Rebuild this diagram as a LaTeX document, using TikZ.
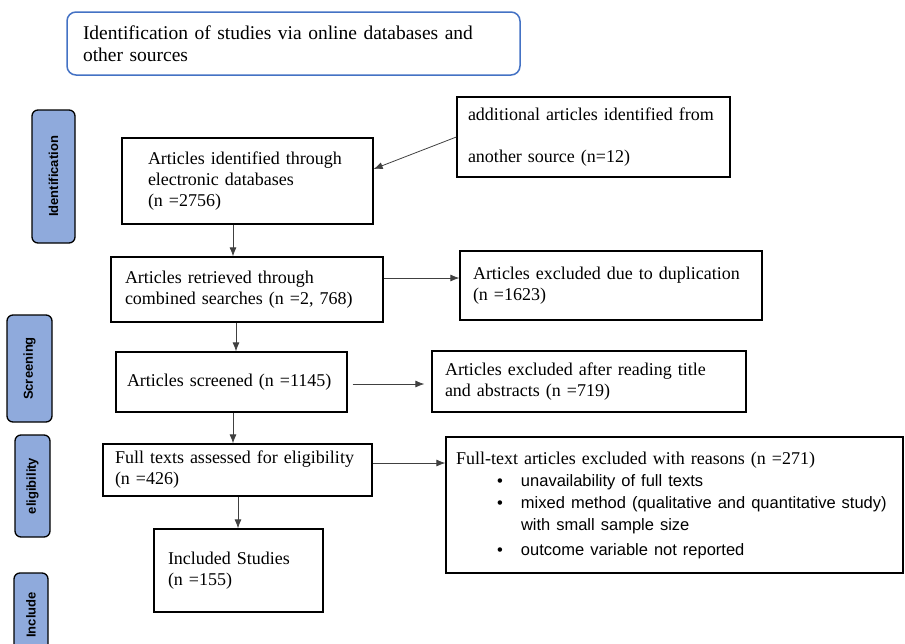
\documentclass[tikz,border=0pt]{standalone}
\usepackage{fontspec}
\setmainfont{Liberation Serif}
\setsansfont{Liberation Sans}
\usetikzlibrary{arrows.meta}
\definecolor{tabblue}{RGB}{143,170,220}
\definecolor{titleblue}{RGB}{68,114,196}

\begin{document}
\begin{tikzpicture}[x=1pt,y=-1pt,
    every node/.style={font=\fontsize{18}{21}\selectfont},
    box/.style={draw,line width=1.3pt,align=left,inner ysep=0pt},
    tab/.style={draw,line width=1.3pt,fill=tabblue,rounded corners=6pt,rotate=90,inner sep=0pt,
      font=\sffamily\bfseries\fontsize{13}{15}\selectfont},
    arr/.style={-{Latex[length=9pt,width=7pt]},line width=0.8pt,draw=black!75}]
    \useasboundingbox (0,0) rectangle (905,643);

    % heading
    \node[draw=titleblue,line width=1.5pt,rounded corners=9pt,align=left,inner xsep=16pt,
      text width=421pt,minimum height=63pt,font=\fontsize{19.5}{22}\selectfont] (T) at (293.5,43.5)
      {Identification of studies via online databases and\\other sources};

    % phase tabs
    \node[tab,minimum width=133pt,minimum height=43pt] (L1) at (53.5,176.5) {Identification};
    \node[tab,minimum width=107pt,minimum height=45pt] (L2) at (29.5,368.5) {Screening};
    \node[tab,minimum width=102pt,minimum height=35pt] (L3) at (32.5,486) {eligibility};
    \node[tab,minimum width=84pt,minimum height=34pt] (L4) at (31,615) {Include};

    % main column
    \node[box,inner xsep=26pt,text width=199pt,minimum height=86pt] (A1) at (247.5,181)
      {Articles identified through\\electronic databases\\(n =2756)};
    \node[box,inner xsep=14pt,text width=244pt,minimum height=65pt] (A2) at (247,289.5)
      {Articles retrieved through\\combined searches (n =2, 768)};
    \node[box,inner xsep=11pt,text width=209pt,minimum height=60pt] (S) at (231.5,382)
      {Articles screened (n =1145)};
    \node[box,inner xsep=12pt,text width=245pt,minimum height=52pt] (E) at (237.5,470)
      {Full texts assessed for eligibility\\(n =426)};
    \node[box,inner xsep=14pt,text width=141pt,minimum height=83pt] (Inc) at (238.5,570.5)
      {Included Studies\\(n =155)};

    % side boxes
    \node[box,inner xsep=11pt,text width=251pt,minimum height=80pt] (S0) at (593.5,137)
      {additional articles identified from\\[21pt]another source (n=12)};
    \node[box,inner xsep=13pt,text width=276pt,minimum height=69pt] (X1) at (611,285.5)
      {Articles excluded due to duplication\\(n =1623)};
    \node[box,inner xsep=13pt,text width=288pt,minimum height=61pt] (X2) at (589,381.5)
      {Articles excluded after reading title\\and abstracts (n =719)};
    \node[box,inner xsep=10pt,text width=437pt,minimum height=136pt,font=\fontsize{18}{22}\selectfont] (X3) at (674.5,505)
      {Full-text articles excluded with reasons (n =271)\\
      {\sffamily\fontsize{16.5}{22}\selectfont\hspace*{41pt}\makebox[24pt][l]{\textbullet}unavailability of full texts}\\
      {\sffamily\fontsize{16.5}{22}\selectfont\hspace*{41pt}\makebox[24pt][l]{\textbullet}mixed method (qualitative and quantitative study)}\\
      {\sffamily\fontsize{16.5}{22}\selectfont\hspace*{65pt}with small sample size}\\[3pt]
      {\sffamily\fontsize{16.5}{22}\selectfont\hspace*{41pt}\makebox[24pt][l]{\textbullet}outcome variable not reported}};

    % connectors
    \draw[arr] (S0.west) -- (A1.east |- 0,169);
    \draw[arr] (A1.south -| 233,0) -- (A2.north -| 233,0);
    \draw[arr] (A2.east |- 0,278) -- (X1.west |- 0,278);
    \draw[arr] (A2.south -| 236,0) -- (S.north -| 236,0);
    \draw[arr] ([xshift=5pt]S.east |- 0,384) -- ([xshift=-7pt]X2.west |- 0,384);
    \draw[arr] (S.south -| 233,0) -- (E.north -| 233,0);
    \draw[arr] (E.east |- 0,463) -- (X3.west |- 0,463);
    \draw[arr] (E.south -| 238,0) -- (Inc.north -| 238,0);
\end{tikzpicture}
\end{document}
